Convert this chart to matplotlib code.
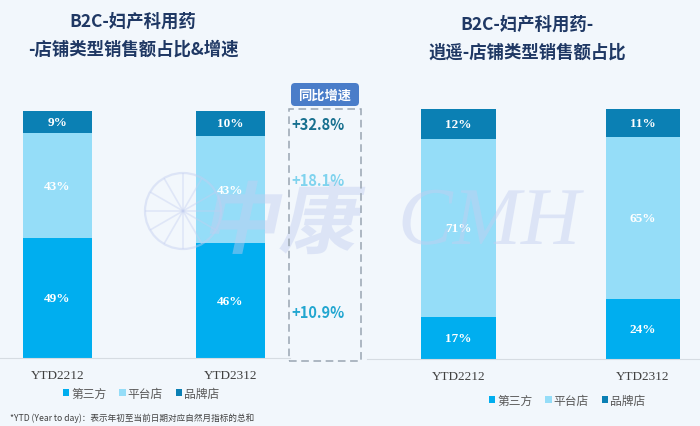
import matplotlib.pyplot as plt
from matplotlib.patches import FancyBboxPatch, Rectangle, Circle, PathPatch
from matplotlib.textpath import TextPath
from matplotlib.font_manager import FontProperties
from matplotlib.transforms import Affine2D
import numpy as np

plt.rcParams['font.family'] = ['Noto Sans CJK SC', 'DejaVu Sans']

# data
periods = ['YTD2212', 'YTD2312']
segments = ['第三方', '平台店', '品牌店']
all_vals = {'第三方': [49, 46], '平台店': [43, 43], '品牌店': [9, 10]}
xy_vals = {'第三方': [17, 24], '平台店': [71, 65], '品牌店': [12, 11]}
growth = ['+32.8%', '+18.1%', '+10.9%']

colors = {'第三方': '#00AEEF', '平台店': '#95DDF8', '品牌店': '#0B80B4'}
growth_colors = ['#17708F', '#7FD3EE', '#22A6D0']
bg = '#F2F7FC'

W, H = 700, 427
fig = plt.figure(figsize=(7, 4.27), dpi=100, facecolor=bg)


def fx(px):
    return px / W


def fy(py):
    return 1 - py / H


def stacked(ax, vals, width):
    x = np.arange(len(periods))
    tot = np.sum([vals[s] for s in segments], axis=0)
    bottom = np.zeros(len(periods))
    for s in segments:
        h = np.array(vals[s]) / tot * 100
        ax.bar(x, h, width, bottom=bottom, color=colors[s], label=s, zorder=2)
        for xi, hi, bi, v in zip(x, h, bottom, vals[s]):
            ax.text(xi, bi + hi / 2, f'{v}%', ha='center', va='center', color='white',
                    fontsize=9.5, fontweight='bold', family='Liberation Serif', zorder=3)
        bottom += h
    ax.set_xticks(x)
    ax.set_xticklabels(periods, family='Liberation Serif', fontsize=9.5, color='#404040')
    ax.tick_params(length=0, pad=8)
    ax.set_yticks([])
    for sp in ['top', 'right', 'left']:
        ax.spines[sp].set_visible(False)
    ax.spines['bottom'].set_color('#D6DCE2')
    ax.set_facecolor('none')


# left chart
ax1 = fig.add_axes([fx(0), fy(359), fx(290), fy(100) - fy(359)])
stacked(ax1, all_vals, 0.4)
ax1.set_xlim(-0.332, 1.344)
ax1.set_ylim(0, 259 / 2.47)

# right chart
ax2 = fig.add_axes([fx(367), fy(360), fx(333), fy(100) - fy(360)])
stacked(ax2, xy_vals, 0.406)
ax2.set_xlim(-0.496, 1.309)
ax2.set_ylim(0, 260 / 2.5)

# overlay in pixel units (y measured from bottom)
ov = fig.add_axes([0, 0, 1, 1], zorder=1)
ov.set_xlim(0, W)
ov.set_ylim(0, H)
ov.axis('off')
ov.patch.set_visible(False)

# watermark
wm = '#C3CEF0'
ov.add_patch(Circle((183, H - 212), 38, fill=False, edgecolor=wm, linewidth=1.6, alpha=0.45))
for a in np.arange(0, 180, 30):
    r = np.deg2rad(a)
    ov.plot([183 - 37 * np.cos(r), 183 + 37 * np.cos(r)],
            [H - 212 - 37 * np.sin(r), H - 212 + 37 * np.sin(r)], color=wm, lw=1.2, alpha=0.4)
skew = Affine2D().skew_deg(12, 0)
tp = TextPath((0, 0), '中康', size=78, prop=FontProperties(family='Noto Sans CJK SC', weight='bold'))
ov.add_patch(PathPatch(tp.transformed(skew + Affine2D().translate(200, H - 248)), facecolor=wm,
                       edgecolor='none', alpha=0.45))
tp2 = TextPath((0, 0), 'CMH', size=82, prop=FontProperties(family='Liberation Serif', style='italic'))
ov.add_patch(PathPatch(tp2.transformed(Affine2D().translate(398, H - 245)), facecolor=wm,
                       edgecolor='none', alpha=0.45))

# titles
tc = '#1F3864'
fig.text(fx(133), fy(22), 'B2C-妇产科用药', ha='center', va='center', fontsize=12.5, fontweight='bold', color=tc)
fig.text(fx(133), fy(50), '-店铺类型销售额占比&增速', ha='center', va='center', fontsize=12.5, fontweight='bold', color=tc)
fig.text(fx(527), fy(25), 'B2C-妇产科用药-', ha='center', va='center', fontsize=12.5, fontweight='bold', color=tc)
fig.text(fx(527), fy(53), '逍遥-店铺类型销售额占比', ha='center', va='center', fontsize=12.5, fontweight='bold', color=tc)

# growth box
ov.add_patch(Rectangle((289, H - 362), 72, 252, fill=False, edgecolor='#9AA6B2',
                       linestyle=(0, (5, 3)), linewidth=1.1))
ov.add_patch(FancyBboxPatch((291, H - 107), 68, 23, boxstyle='round,pad=0,rounding_size=4',
                            facecolor='#4A7DC9', edgecolor='none'))
fig.text(fx(325), fy(96), '同比增速', ha='center', va='center', fontsize=9.5, fontweight='bold', color='white')
for txt, c, py in zip(growth, growth_colors, [125, 181, 313]):
    fig.text(fx(291), fy(py), txt, ha='left', va='center', fontsize=10.5, fontweight='bold', color=c)

# legends
handles, labels = ax1.get_legend_handles_labels()
leg_kw = dict(ncol=3, frameon=False, fontsize=8.5, handlelength=0.55, handleheight=0.55,
              handletextpad=0.15, columnspacing=1.1, labelcolor='#595959')
fig.legend(handles, labels, loc='center', bbox_to_anchor=(fx(141), fy(394)), **leg_kw)
fig.legend(handles, labels, loc='center', bbox_to_anchor=(fx(567), fy(401)), **leg_kw)

fig.text(fx(10), fy(418), '*YTD (Year to day)：表示年初至当前日期对应自然月指标的总和', ha='left', va='center',
         fontsize=6.2, color='#404040')

fig.savefig('out.png', dpi=100, facecolor=bg)
